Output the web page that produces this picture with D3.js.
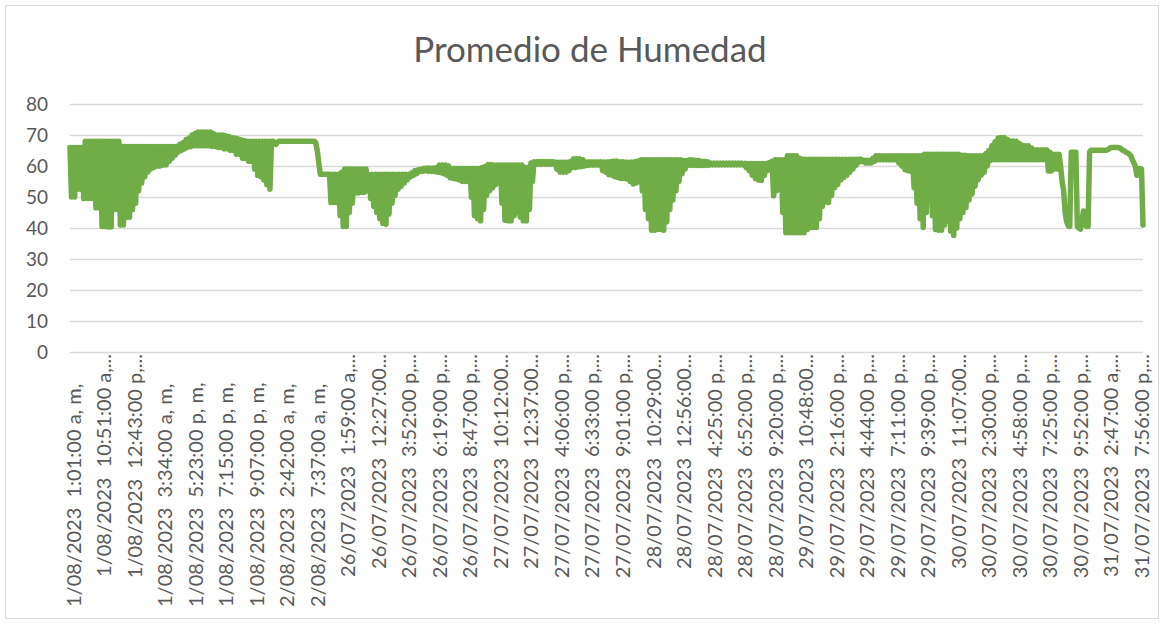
<!DOCTYPE html>
<html>
<head>
<meta charset="utf-8">
<script src="https://cdn.jsdelivr.net/npm/d3@7"></script>
<style>
  body { margin: 0; background: #fff; }
  svg { display: block; font-family: Lato, "Open Sans", sans-serif; }
</style>
</head>
<body>
<svg id="grafico" width="1164" height="624"></svg>
<script>
// datos
const titulo = "Promedio de Humedad";
const ticksY = [0, 10, 20, 30, 40, 50, 60, 70, 80];

// una etiqueta visible cada 20 puntos
const etiquetas = [
  "1/08/2023  1:01:00 a, m,", "1/08/2023  10:51:00 a,...", "1/08/2023  12:43:00 p,...",
  "1/08/2023  3:34:00 a, m,", "1/08/2023  5:23:00 p, m,", "1/08/2023  7:15:00 p, m,",
  "1/08/2023  9:07:00 p, m,", "2/08/2023  2:42:00 a, m,", "2/08/2023  7:37:00 a, m,",
  "26/07/2023  1:59:00 a,...", "26/07/2023  12:27:00...", "26/07/2023  3:52:00 p,...",
  "26/07/2023  6:19:00 p,...", "26/07/2023  8:47:00 p,...", "27/07/2023  10:12:00...",
  "27/07/2023  12:37:00...", "27/07/2023  4:06:00 p,...", "27/07/2023  6:33:00 p,...",
  "27/07/2023  9:01:00 p,...", "28/07/2023  10:29:00...", "28/07/2023  12:56:00...",
  "28/07/2023  4:25:00 p,...", "28/07/2023  6:52:00 p,...", "28/07/2023  9:20:00 p,...",
  "29/07/2023  10:48:00...", "29/07/2023  2:16:00 p,...", "29/07/2023  4:44:00 p,...",
  "29/07/2023  7:11:00 p,...", "29/07/2023  9:39:00 p,...", "30/07/2023  11:07:00...",
  "30/07/2023  2:30:00 p,...", "30/07/2023  4:58:00 p,...", "30/07/2023  7:25:00 p,...",
  "30/07/2023  9:52:00 p,...", "31/07/2023  2:47:00 a,...", "31/07/2023  7:56:00 p,..."
];
const etiquetaCada = 20;

// humedad (%), 20 lecturas por etiqueta
const humedad = [
  66,50,66,50,66,52.5,66,52.5,66,49.5,68,49.5,68,49.5,68,49.5,68,46.5,68,46.5,
  68,40.5,68,40.5,68,40.3,68,40.3,68,46,68,46,68,41,66.3,41,66.3,43.5,66.3,43.5,
  66.3,46,66.3,48,66.3,52,66.3,54.5,66.3,56.5,66.3,58,66.3,59,66.3,59.5,66.3,60,66.3,60,
  66.3,60.3,66.3,60.3,66.3,61.5,66.3,62.5,66.3,63.5,66.3,64.5,67,65,67.5,65.5,68.5,66,69,66.2,
  70,66.5,70.5,66.5,71,66.5,71,66.5,71,66.5,71,66.5,71,66.3,70.5,66.3,70,66,70,66,
  70,65.5,69.8,65.5,69.5,65,69.2,65,69,63.8,68.8,63.8,68.5,62.5,68.2,62.5,68,61.5,68,61.5,
  68,59,68,57,68,56.5,68,55.5,68,54,68,52.5,68,68,67.3,67,67.8,68,68,68,
  68,68,68,68,68,68,68,68,68,68,68,68,68,68,68,68,68,68,68,68,
  68,67.5,65,61,57.3,57.3,57.3,57.3,57.3,57.3,57.3,48.2,57.3,48.2,57.3,48.2,57.3,44,58,40.5,
  59,40.5,59,45,59,48,59,51.3,59,51.3,59,51.5,59,51.5,59,52,57.3,49.5,57.3,47,
  57.3,45,57.3,43,57.3,41.5,57.3,41.2,57.3,44.5,57.3,48,57.3,50.5,57.3,52.5,57.3,53.5,57.3,54.5,
  57.3,55.5,57.3,56.5,57.8,57,58.5,57.5,58.8,58.2,59,58.3,59.2,58.5,59.3,58.3,59.3,58.3,59.3,58.2,
  59.5,58,60.3,57.8,60.3,57.5,60.3,57,60,56.2,59.2,56,59.2,55.8,59.2,55.5,59.2,55,59.2,55,
  59.2,55,59.2,50,59.2,44,59.2,43,59.2,42.3,59.5,46,59.8,50.5,60.5,52,60.5,53,60.3,54,
  60.3,55,60.3,48,60.3,42.5,60.3,42.3,60.3,42.3,60.3,44,60.3,45,60.3,43.5,60.3,42.3,59.5,42.3,
  59.5,46,61,55,61.4,60.5,61.4,60.6,61.4,60.6,61.4,60.6,61.4,60.6,61.4,60.6,61.4,60.6,61.2,59,
  61.2,58,61.2,58,61.2,58,61.2,58.5,61.5,59.5,62.3,59.5,62.3,59.7,62.3,59.8,62,60,61.3,60.2,
  61.3,60.3,61.3,60.3,61.3,60.3,61.3,60.3,61.3,58.5,61.3,58,61.3,57.2,61.4,57,61.5,56.5,61.6,56.3,
  61.4,56,61.4,56,61.3,55.8,61.2,55,61.3,54.2,61.4,54.5,61.6,55,62,52,62,46,62,43,
  62,39.3,62,39.3,62,39.5,62,39.5,62,39.3,62,42,62,46,62,49,62,52,62,55,
  62,57.5,61.8,59,61.8,60.2,62,60.2,62,60.2,61.8,60.2,61.8,60.2,61.5,60.2,61.5,60.2,61.3,60.3,
  60.9,60.4,60.9,60.4,60.9,60.4,60.9,60.4,60.9,60.4,60.9,60.4,60.9,60.4,60.9,60.4,60.9,60.4,60.9,60.4,
  60.9,60.4,60.8,59.5,60.8,58.5,60.8,57,60.8,56,60.8,55.5,60.8,55.3,60.8,57,60.8,58.5,61,59.5,
  61.5,50.4,62,52,62,55.5,62,45,62,38.5,63.3,38.5,63.3,38.5,63.3,38.5,63.3,38.5,62.5,38.5,
  62.2,38.5,62.2,39.5,62.2,40.2,62.2,40.2,62.2,40.2,62.2,43,62.2,47,62.2,48.5,62.2,48.2,62.2,50.5,
  62.2,53,62.2,54,62.2,55.5,62.2,56.3,62.2,57,62.2,58,62.2,59,62.2,60.2,62.2,61.3,62.2,61.5,
  61.8,61,61.8,61,61.8,61,62.5,61.5,63.3,62,63.3,62,63.3,62,63.3,62,63.3,62,63.3,62,
  63.3,62,63.3,61,63.3,60,63.3,58.8,63.3,58.5,63.3,58.2,63.3,53,63.3,48,63.3,43,63.3,40.2,
  63.8,45,63.8,48.8,63.8,44,63.8,39.5,63.8,39.3,63.8,39.3,63.8,41,63.8,42.3,63.8,39,63.8,37.6,
  63.8,40,63.8,43,63.5,45,63.5,46.6,63.3,49,63.3,51,63.3,53.5,63.3,55.5,63.3,57,63.3,58,
  64,60,65,61.8,66.5,62,67.8,62,69,62,69.2,62,69.2,62,68.6,62,68.1,62,68.1,62,
  68,62,67.3,62,66.7,62,66.5,62,66.5,62,65.8,62,65.2,62,65.2,62,65.2,62,65.2,62,
  65.2,58.4,64.4,58.4,63.8,59,63.8,59,63.8,60,55,52,45,42,40.7,40.5,64.4,64.4,64.4,64.4,
  40.5,40,39.6,42,45.5,43,40.5,40.5,64.5,65.1,65.1,65.1,65.1,65.1,65.1,65.1,65.1,65.1,65.1,65.1,
  65.3,65.6,66,66,66,66,66,65.9,65.8,65.4,65,64.8,64.4,64.2,63.8,63.3,62,61,60,57,
  57.3,59.2,59,41
];

const svg = d3.select("#grafico");
const W = +svg.attr("width");
const H = +svg.attr("height");
const margin = { top: 104, right: 21, bottom: 272, left: 70 };
const width = W - margin.left - margin.right;
const height = H - margin.top - margin.bottom;
const colorTexto = "#595959";
const colorRejilla = "#d9d9d9";

// borde del área del gráfico
svg.append("rect")
  .attr("x", 5.5).attr("y", 5.5)
  .attr("width", W - 11).attr("height", H - 11)
  .attr("fill", "none")
  .attr("stroke", colorRejilla);

// título
svg.append("text")
  .attr("x", 590)
  .attr("y", 62)
  .attr("text-anchor", "middle")
  .attr("font-size", "35px")
  .attr("fill", colorTexto)
  .text(titulo);

const g = svg.append("g").attr("transform", `translate(${margin.left},${margin.top})`);

const x = d3.scaleLinear().domain([0, humedad.length - 1]).range([0, width]);
const y = d3.scaleLinear().domain([0, 80]).range([height, 0]);

// rejilla horizontal + etiquetas del eje Y
g.append("g")
  .attr("class", "eje-y")
  .call(d3.axisLeft(y).tickValues(ticksY).tickSize(-width).tickPadding(22))
  .call(a => {
    a.select(".domain").remove();
    a.selectAll(".tick line").attr("stroke", colorRejilla).attr("stroke-width", 1.5);
    a.selectAll(".tick text")
      .attr("fill", colorTexto)
      .attr("font-size", "19px")
      .attr("font-family", "Lato, sans-serif");
  });

// eje X: etiquetas giradas
const posEtiquetas = d3.range(0, humedad.length, etiquetaCada);
g.append("g")
  .attr("class", "eje-x")
  .attr("transform", `translate(0,${height})`)
  .call(d3.axisBottom(x).tickValues(posEtiquetas).tickSize(0)
    .tickFormat(i => etiquetas[i / etiquetaCada]))
  .call(a => {
    a.select(".domain").remove();
    a.selectAll(".tick text")
      .attr("fill", colorTexto)
      .attr("font-size", "20px")
      .attr("font-family", "Lato, sans-serif")
      .style("white-space", "pre")
      .attr("transform", "rotate(-90)")
      .attr("dy", "0.35em")
      .attr("y", 3)
      // las recortadas se alinean arriba, las completas abajo
      .attr("text-anchor", (d, i) => etiquetas[i].endsWith("...") ? "end" : "start")
      .attr("x", (d, i) => etiquetas[i].endsWith("...") ? -2 : -255);
  });

// serie
const linea = d3.line()
  .x((d, i) => x(i))
  .y(d => y(d));

g.append("path")
  .datum(humedad)
  .attr("fill", "none")
  .attr("stroke", "#70ad47")
  .attr("stroke-width", 5.5)
  .attr("stroke-linejoin", "round")
  .attr("stroke-linecap", "round")
  .attr("d", linea);
</script>
</body>
</html>
